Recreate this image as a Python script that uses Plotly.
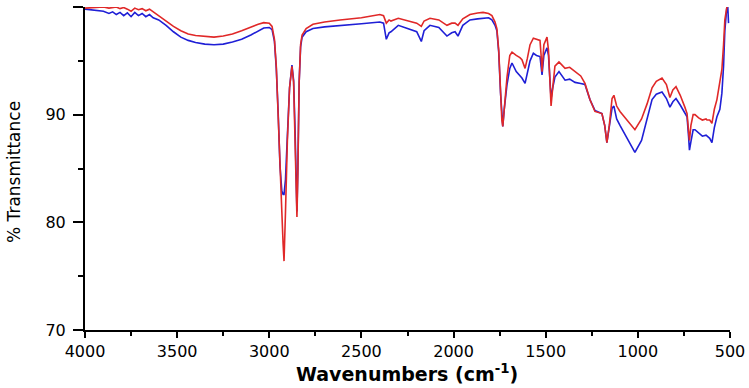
import plotly.graph_objects as go

wavenumber = [4000, 3950, 3900, 3870, 3850, 3830, 3810, 3790, 3770, 3750, 3730, 3710, 3690, 3670, 3650,
              3630, 3600, 3560, 3520, 3480, 3440, 3400, 3350, 3300, 3250, 3200, 3150, 3100, 3060, 3030,
              3000, 2985, 2972, 2962, 2952, 2942, 2932, 2925, 2920, 2912, 2902, 2890, 2877, 2868, 2860,
              2855, 2850, 2845, 2838, 2830, 2822, 2800, 2763, 2700, 2616, 2500, 2400, 2380, 2365, 2350,
              2340, 2300, 2250, 2200, 2175, 2160, 2128, 2080, 2036, 2010, 1992, 1976, 1950, 1911, 1870,
              1840, 1810, 1792, 1775, 1765, 1755, 1745, 1738, 1733, 1725, 1710, 1695, 1683, 1660, 1640,
              1629, 1612, 1600, 1585, 1567, 1550, 1531, 1525, 1520, 1510, 1493, 1485, 1478, 1471, 1462,
              1450, 1428, 1410, 1395, 1370, 1341, 1310, 1287, 1260, 1233, 1195, 1180, 1168, 1155, 1140,
              1130, 1115, 1097, 1060, 1016, 980, 950, 923, 900, 869, 845, 826, 810, 793, 770,
              745, 733, 725, 720, 712, 700, 690, 670, 650, 630, 625, 610, 598, 585, 571,
              555, 544, 535, 528, 517, 512, 508]

sample_red = [99.9, 99.95, 100.0, 99.9, 99.95, 100.0, 99.85, 99.95, 99.8, 99.6, 99.9, 99.75, 99.85, 99.65, 99.8,
              99.55, 99.2, 98.7, 98.2, 97.8, 97.5, 97.35, 97.25, 97.2, 97.3, 97.5, 97.8, 98.15, 98.4, 98.55,
              98.5, 98.2, 97.0, 94.5, 90.5, 85.5, 81.0, 78.0, 76.4, 81.0, 87.5, 92.5, 94.5, 93.0, 88.0,
              83.5, 80.5, 84.5, 93.0, 96.5, 97.4, 98.0, 98.4, 98.6, 98.8, 99.0, 99.3, 99.2, 98.5, 98.8,
              98.7, 98.95, 98.7, 98.5, 98.2, 98.7, 98.95, 98.8, 98.3, 98.5, 98.5, 98.3, 98.9, 99.3, 99.45,
              99.5, 99.4, 99.2, 98.6, 98.0, 96.0, 92.0, 89.5, 88.9, 90.5, 93.5, 95.5, 95.8, 95.5, 95.3,
              95.1, 94.3, 95.2, 96.5, 97.1, 97.0, 96.9, 95.5, 94.0, 96.5, 97.2, 96.0, 92.5, 90.8, 92.5,
              94.5, 94.9, 94.6, 94.3, 94.4, 94.0, 93.6, 92.9, 91.4, 90.3, 90.1, 89.0, 87.4, 89.0, 91.5,
              91.8, 90.8, 90.3, 89.5, 88.6, 89.6, 91.0, 92.5, 93.1, 93.4, 92.8, 91.6, 92.3, 92.6, 91.8,
              90.7, 90.1, 88.5, 87.6, 89.0, 90.0, 90.0, 89.7, 89.5, 89.6, 89.5, 89.5, 89.2, 90.5, 91.4,
              93.0, 94.2, 96.5, 98.8, 100.0, 100.0, None]

sample_blue = [99.8, 99.7, 99.6, 99.4, 99.55, 99.3, 99.5, 99.2, 99.45, 99.1, 99.5, 99.2, 99.4, 99.1, 99.3,
               99.0, 98.8, 98.3, 97.7, 97.2, 96.9, 96.7, 96.55, 96.5, 96.55, 96.75, 97.0, 97.4, 97.8, 98.05,
               98.1, 97.9, 96.8, 94.3, 90.3, 85.3, 82.9, 82.6, 82.6, 84.0, 88.0, 92.5, 94.6, 93.2, 88.5,
               84.0, 81.0, 85.0, 93.0, 96.3, 97.2, 97.7, 98.0, 98.15, 98.3, 98.45, 98.6, 98.5, 97.0, 97.6,
               97.7, 98.3, 98.0, 97.7, 96.8, 97.8, 98.3, 98.1, 97.3, 97.6, 97.7, 97.3, 98.3, 98.8, 98.9,
               98.95, 99.0, 98.8, 98.3, 97.8, 95.8, 92.0, 89.5, 88.9, 90.5, 92.8, 94.3, 94.8, 94.0, 93.6,
               93.4, 92.9, 93.8, 95.0, 95.7, 95.5, 95.4, 94.5, 93.7, 95.5, 96.2, 95.5, 93.0, 91.5, 92.5,
               93.5, 94.0, 93.6, 93.2, 93.3, 93.0, 92.9, 92.8, 91.4, 90.4, 90.1, 89.0, 87.4, 88.8, 90.6,
               90.8, 89.6, 89.0, 87.8, 86.5, 87.6, 89.6, 91.4, 91.9, 92.1, 91.5, 90.7, 91.2, 91.5, 90.9,
               90.2, 89.8, 88.0, 86.7, 87.5, 88.6, 88.6, 88.3, 88.0, 88.1, 88.0, 87.8, 87.4, 88.8, 89.8,
               90.5, 92.0, 94.5, 97.8, 100.0, 100.0, 98.5]

x_ticks = [4000, 3500, 3000, 2500, 2000, 1500, 1000, 500]
y_ticks = [70, 80, 90, 100]
x_title = "<b>Wavenumbers (cm<sup>-1</sup>)</b>"
y_title = "% Transmittance"

fig = go.Figure()
fig.add_trace(go.Scatter(x=wavenumber, y=sample_blue, mode="lines",
                         line=dict(color="#1f1fd6", width=1.6), showlegend=False))
fig.add_trace(go.Scatter(x=wavenumber, y=sample_red, mode="lines",
                         line=dict(color="#e02828", width=1.6), showlegend=False))

fig.update_layout(
    width=749, height=388,
    margin=dict(l=85, r=19, t=7, b=58, autoexpand=False),
    paper_bgcolor="white", plot_bgcolor="white",
    font=dict(family="DejaVu Sans", color="black"),
)
fig.update_xaxes(
    range=[4000, 500], tickvals=x_ticks, ticktext=[str(v) for v in x_ticks],
    showgrid=False, zeroline=False, showline=True, linecolor="black", linewidth=2,
    ticks="outside", ticklen=6, tickwidth=2, tickcolor="black", automargin=False,
    tickfont=dict(size=16, family="DejaVu Sans"), ticklabelstandoff=0,
    minor=dict(dtick=250, ticks="outside", ticklen=4, tickwidth=1.5, tickcolor="black", showgrid=False),
)
fig.update_yaxes(
    range=[70, 100], tickvals=y_ticks, ticktext=[str(v) for v in y_ticks],
    showgrid=False, zeroline=False, showline=True, linecolor="black", linewidth=2,
    ticks="outside", ticklen=10, tickwidth=2, tickcolor="black", automargin=False,
    tickfont=dict(size=16, family="DejaVu Sans"), ticklabelstandoff=4,
    minor=dict(dtick=5, ticks="outside", ticklen=5, tickwidth=1.5, tickcolor="black", showgrid=False),
)
fig.add_annotation(text=x_title, xref="paper", yref="paper", x=(407 - 85) / 645, y=(330 - 373) / 323,
                   xanchor="center", yanchor="middle", showarrow=False,
                   font=dict(size=19, family="DejaVu Sans", color="black"))
fig.add_annotation(text=y_title, xref="paper", yref="paper", x=(14 - 85) / 645, y=(330 - 172) / 323,
                   xanchor="center", yanchor="middle", textangle=-90, showarrow=False,
                   font=dict(size=17, family="DejaVu Sans", color="black"))

fig.write_html("out.html", config={"displayModeBar": False},
               post_script="document.body.style.margin='0';")
